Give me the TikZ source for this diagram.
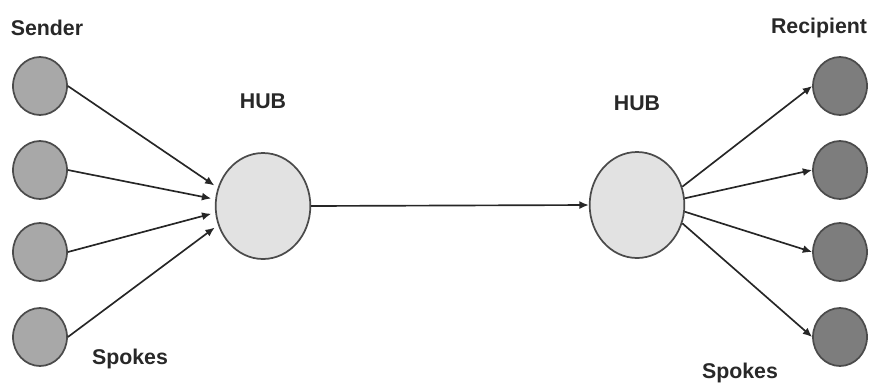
\documentclass[tikz,border=0pt]{standalone}
\usepackage{fontspec}
\setmainfont{Liberation Sans}
\usetikzlibrary{shapes,arrows.meta,positioning}
\definecolor{spokegray}{RGB}{168,168,168}
\definecolor{spokedark}{RGB}{125,125,125}
\definecolor{hubgray}{RGB}{226,226,226}
\definecolor{rimgray}{RGB}{75,75,75}
\definecolor{textgray}{RGB}{40,40,40}

\begin{document}
\begin{tikzpicture}[x=0.75pt, y=-0.75pt,
    every node/.style={font=\fontsize{16}{18}\selectfont\bfseries, text=textgray},
    sender/.style={ellipse, draw=rimgray, line width=1.3pt, fill=spokegray, minimum width=40.5pt, minimum height=43.5pt, inner sep=0pt},
    recipient/.style={sender, fill=spokedark},
    hub/.style={ellipse, draw=rimgray, line width=1.3pt, fill=hubgray, minimum width=71pt, minimum height=79.5pt, inner sep=0pt},
    link/.style={draw=black!85, line width=1.25pt, -{Latex[length=7pt,width=6pt]}}]
    \useasboundingbox (0,0) rectangle (873,383);

    % the two hubs
    \node[hub] (hubL) at (263,206) {};
    \node[hub] (hubR) at (637,205) {};

    % spokes on both sides
    \foreach \i/\y in {1/86,2/170,3/252,4/337} {
        \node[sender] (s\i) at (40,\y) {};
        \node[recipient] (r\i) at (840,\y) {};
    }

    % labels
    \node at (47,28) {Sender};
    \node at (819,28) {Recipient};
    \node at (263,101) {HUB};
    \node at (637,103) {HUB};
    \node at (130,359) {Spokes};
    \node at (740,373) {Spokes};

    % senders into the left hub
    \draw[link, shorten >=3pt] (s1.east) -- (hubL.158);
    \draw[link, shorten >=3pt] (s2.east) -- (hubL.172);
    \draw[link, shorten >=3pt] (s3.east) -- (hubL.188);
    \draw[link, shorten >=3pt] (s4.east) -- (hubL.203);

    % hub to hub
    \draw[link] (hubL.east) -- (hubR.west);

    % right hub out to recipients
    \draw[link] (hubR.22) -- (r1.west);
    \draw[link] (hubR.8) -- (r2.west);
    \draw[link] (hubR.-8) -- (r3.west);
    \draw[link] (hubR.-22) -- (r4.west);
\end{tikzpicture}
\end{document}
